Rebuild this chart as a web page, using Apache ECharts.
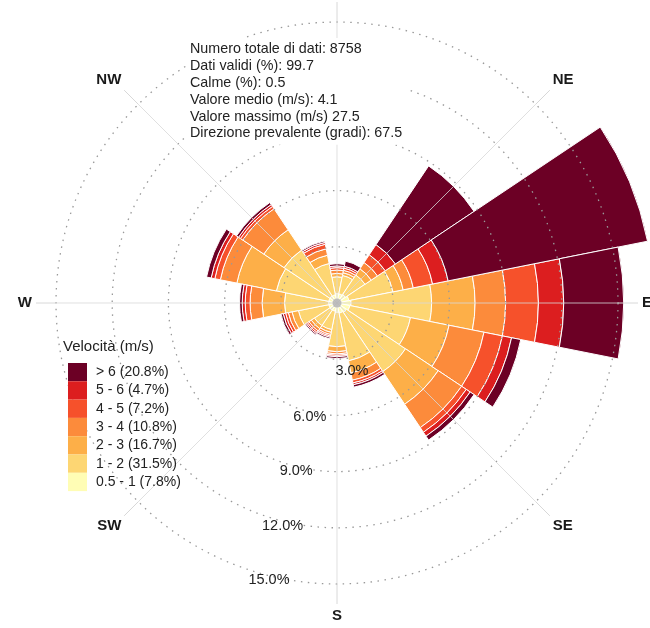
<!DOCTYPE html>
<html>
<head>
<meta charset="utf-8">
<script src="https://cdn.jsdelivr.net/npm/echarts@6/dist/echarts.min.js"></script>
<style>
  html, body { margin: 0; padding: 0; background: #fff; }
  #chart { width: 650px; height: 628px; }
</style>
</head>
<body>
<div id="chart"></div>
<script>
const directions = ['N', 'NNE', 'NE', 'ENE', 'E', 'ESE', 'SE', 'SSE', 'S', 'SSW', 'SW', 'WSW', 'W', 'WNW', 'NW', 'NNW'];
const compassLabels = ['N', 'NE', 'E', 'SE', 'S', 'SW', 'W', 'NW'];
const ringLabels = ['3.0%', '6.0%', '9.0%', '12.0%', '15.0%'];
const speedClasses = ['0.5 - 1 (7.8%)', '1 - 2 (31.5%)', '2 - 3 (16.7%)', '3 - 4 (10.8%)', '4 - 5 (7.2%)', '5 - 6 (4.7%)', '> 6 (20.8%)'];
const speedColors = ['#FFFDB5', '#FDD673', '#FDAF48', '#FC8B3B', '#F6512B', '#DC1E1F', '#6C0025'];
const statsLines = [
  'Numero totale di dati: 8758',
  'Dati validi (%): 99.7',
  'Calme (%): 0.5',
  'Valore medio (m/s): 4.1',
  'Valore massimo (m/s) 27.5',
  'Direzione prevalente (gradi): 67.5'
];

// frequency (%) of each speed class, one value per direction (N clockwise)
const freq05to1 = [0.50, 0.50, 0.55, 0.65, 0.75, 0.70, 0.60, 0.55, 0.50, 0.45, 0.45, 0.45, 0.45, 0.45, 0.45, 0.45];
const freq1to2  = [0.90, 1.00, 1.25, 2.40, 4.30, 3.30, 3.80, 2.60, 1.83, 1.00, 1.00, 1.65, 2.35, 2.85, 2.95, 1.70];
const freq2to3  = [0.18, 0.15, 0.40, 0.55, 2.32, 2.10, 2.10, 0.65, 0.27, 0.15, 0.20, 0.35, 1.20, 2.15, 1.30, 0.45];
const freq3to4  = [0.18, 0.13, 0.40, 0.55, 1.63, 1.90, 1.50, 0.40, 0.12, 0.12, 0.15, 0.20, 0.64, 0.90, 1.35, 0.35];
const freq4to5  = [0.13, 0.12, 0.50, 1.05, 1.75, 1.00, 0.30, 0.15, 0.08, 0.08, 0.10, 0.15, 0.26, 0.30, 0.15, 0.25];
const freq5to6  = [0.09, 0.10, 0.65, 0.85, 1.35, 0.50, 0.25, 0.10, 0.07, 0.07, 0.08, 0.13, 0.16, 0.20, 0.12, 0.10];
const freqOver6 = [0.12, 0.28, 5.05, 10.85, 3.20, 0.50, 0.25, 0.13, 0.10, 0.08, 0.07, 0.12, 0.14, 0.25, 0.13, 0.08];

const classValues = [freq05to1, freq1to2, freq2to3, freq3to4, freq4to5, freq5to6, freqOver6];
const font = "'Liberation Sans', Arial, sans-serif";
const center = [337, 303];

const chart = echarts.init(document.getElementById('chart'), null, { renderer: 'canvas' });

const barSeries = speedClasses.map((name, i) => ({
  name: name,
  type: 'bar',
  coordinateSystem: 'polar',
  polarIndex: 0,
  stack: 'rose',
  barCategoryGap: '0%',
  data: classValues[i],
  itemStyle: { color: speedColors[i], borderColor: '#fff', borderWidth: 1 },
  z: 2
}));

const option = {
  animation: false,
  backgroundColor: '#fff',
  textStyle: { fontFamily: font },
  title: [
    {
      text: statsLines.join('\n'),
      left: 186, top: 38,
      backgroundColor: '#fff',
      padding: [3, 4],
      z: 10,
      textStyle: { fontSize: 14.3, fontWeight: 'normal', lineHeight: 16.8, color: '#222', fontFamily: font }
    },
    {
      text: 'Velocità (m/s)',
      left: 63, top: 339,
      padding: 0,
      textStyle: { fontSize: 15, fontWeight: 'normal', color: '#222', fontFamily: font }
    }
  ],
  legend: {
    orient: 'vertical',
    left: 63, top: 358,
    itemWidth: 19, itemHeight: 18.3, itemGap: 0,
    icon: 'rect',
    selectedMode: false,
    data: speedClasses.slice().reverse(),
    itemStyle: { borderWidth: 0 },
    textStyle: { fontSize: 14, color: '#222', fontFamily: font, padding: [0, 0, 0, 4] }
  },
  polar: [
    { center: center, radius: 318.5 },
    { center: center, radius: 281 },
    { center: center, radius: 281 }
  ],
  angleAxis: [
    { polarIndex: 0, type: 'category', data: directions, startAngle: 101.25, show: false },
    {
      polarIndex: 1, type: 'value', min: 0, max: 360, interval: 45, startAngle: 90, z: 3,
      axisLine: { show: false },
      axisTick: { show: true, length: 20, lineStyle: { color: '#d8d8d8' } },
      splitLine: { show: true, lineStyle: { color: '#d8d8d8', width: 1, opacity: 0.8 } },
      axisLabel: {
        margin: 24, fontSize: 15, fontWeight: 'bold', color: '#1a1a1a', fontFamily: font,
        formatter: v => (v < 360 ? compassLabels[v / 45] : '')
      }
    },
    { polarIndex: 2, type: 'value', min: 0, max: 360, startAngle: -104, show: false }
  ],
  radiusAxis: [
    { polarIndex: 0, min: 0, max: 17, show: false },
    {
      polarIndex: 1, min: 0, max: 15, interval: 3, z: 3,
      axisLine: { show: false }, axisTick: { show: false }, axisLabel: { show: false },
      splitLine: { show: true, lineStyle: { type: [1.5, 5.5], color: '#999', width: 1.3 } }
    },
    {
      polarIndex: 2, min: 0, max: 15, interval: 3, z: 3,
      axisLine: { show: false }, axisTick: { show: false }, splitLine: { show: false },
      axisLabel: {
        margin: 0, align: 'center', verticalAlign: 'middle', fontSize: 14.5, color: '#222', fontFamily: font,
        padding: [9, 0, 0, 0],
        formatter: v => (v === 3 ? '{near|' + ringLabels[0] + '}' : (v > 0 ? ringLabels[v / 3 - 1] : '')),
        rich: { near: { fontSize: 14.5, color: '#222', fontFamily: font, padding: [17, 0, 0, 57] } }
      }
    }
  ],
  series: barSeries.concat([{
    name: 'calme',
    type: 'scatter',
    coordinateSystem: 'polar',
    polarIndex: 0,
    data: [[0, 0]],
    symbolSize: 9,
    silent: true,
    itemStyle: { color: '#b0b0b0' },
    z: 4
  }])
};

chart.setOption(option);
</script>
</body>
</html>
